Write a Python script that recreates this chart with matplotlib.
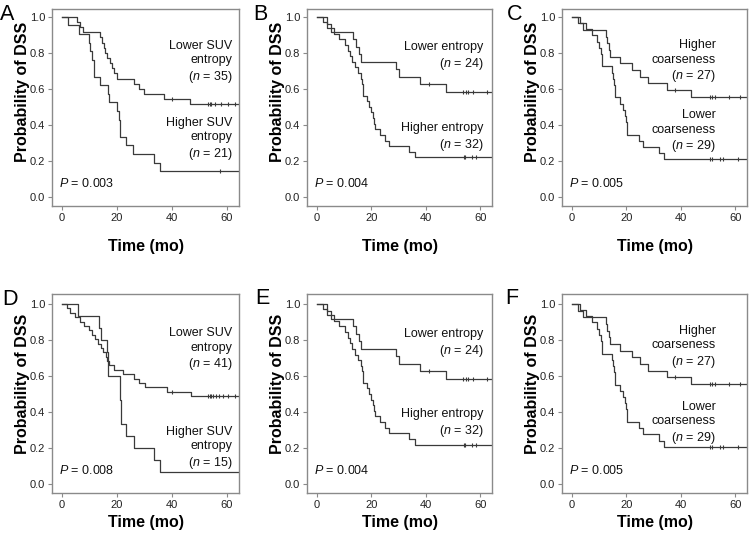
import numpy as np
import matplotlib
matplotlib.use("Agg")
import matplotlib.pyplot as plt

plt.rcParams['font.family'] = ['Liberation Sans', 'DejaVu Sans']
plt.rcParams['mathtext.fontset'] = 'custom'
plt.rcParams['mathtext.it'] = 'Liberation Sans:italic'
plt.rcParams['mathtext.rm'] = 'Liberation Sans'

# ---------------- data ----------------
# Panel A / D: SUV entropy ; Panel B / E: entropy ; Panel C / F: coarseness
A_hi_t = [2.2, 6.3, 9.9, 10.3, 10.8, 11.7, 13.6, 16.6, 16.9, 19.8, 20.6, 21.0, 21.2, 23.4, 25.9, 33.5, 35.7]
A_hi_s = [0.952, 0.905, 0.857, 0.810, 0.762, 0.667, 0.619, 0.571, 0.524, 0.476, 0.429, 0.381, 0.333, 0.286, 0.238, 0.190, 0.143]
A_hi_c = [57.4]
A_lo_t = [5.3, 6.5, 7.5, 13.6, 14.5, 15.1, 15.7, 16.3, 17.5, 18.2, 18.8, 19.8, 26.1, 28.0, 29.8, 37.2, 46.6]
A_lo_s = [0.971, 0.943, 0.914, 0.886, 0.857, 0.829, 0.800, 0.771, 0.743, 0.714, 0.686, 0.657, 0.629, 0.600, 0.571, 0.543, 0.514]
A_lo_c = [40.0, 53.0, 53.7, 54.3, 55.6, 58.0, 60.5, 63.0, 65.0]

B_lo_t = [3.8, 5.0, 13.2, 14.5, 15.4, 16.0, 29.0, 30.3, 37.8, 47.5]
B_lo_s = [0.958, 0.917, 0.875, 0.833, 0.792, 0.750, 0.708, 0.667, 0.625, 0.583]
B_lo_c = [41.2, 53.6, 54.8, 55.5, 57.4, 62.4, 65.0]
B_hi_t = [2.3, 3.8, 6.1, 8.2, 10.1, 11.3, 12.0, 13.0, 14.0, 15.0, 16.0, 16.5, 17.0, 18.5, 19.0, 20.0, 20.5, 21.0, 21.5, 23.0, 25.0, 26.5, 34.0, 36.0]
B_hi_s = [0.969, 0.938, 0.906, 0.875, 0.844, 0.812, 0.781, 0.750, 0.719, 0.688, 0.656, 0.625, 0.562, 0.531, 0.500, 0.469, 0.438, 0.406, 0.375, 0.344, 0.312, 0.281, 0.250, 0.219]
B_hi_c = [54.0, 54.5, 57.0, 58.5, 65.0]

C_hi_t = [2.3, 4.1, 12.5, 13.0, 13.5, 14.0, 17.5, 22.0, 25.0, 28.0, 35.0, 43.7]
C_hi_s = [0.963, 0.926, 0.889, 0.852, 0.815, 0.778, 0.741, 0.704, 0.667, 0.630, 0.593, 0.556]
C_hi_c = [37.9, 50.8, 51.4, 52.5, 57.7, 61.8]
C_lo_t = [2.9, 5.2, 7.3, 9.3, 10.0, 10.5, 11.0, 14.6, 15.2, 15.5, 15.7, 17.5, 18.6, 19.6, 20.0, 20.4, 24.5, 26.0, 32.0, 33.8]
C_lo_s = [0.966, 0.931, 0.897, 0.862, 0.828, 0.793, 0.724, 0.690, 0.655, 0.621, 0.552, 0.517, 0.483, 0.448, 0.414, 0.345, 0.310, 0.276, 0.241, 0.207]
C_lo_c = [50.8, 51.4, 54.3, 55.4, 61.2]

D_hi_t = [5.9, 13.3, 14.0, 16.3, 16.6, 21.0, 21.3, 23.4, 26.0, 33.5, 35.7]
D_hi_s = [0.933, 0.867, 0.800, 0.733, 0.600, 0.467, 0.333, 0.267, 0.200, 0.133, 0.067]
D_hi_c = []
D_lo_t = [1.6, 2.8, 4.7, 6.5, 8.0, 9.6, 11.0, 12.0, 13.0, 14.0, 15.0, 16.0, 16.5, 17.0, 19.0, 22.0, 26.0, 28.0, 30.0, 38.0, 47.0]
D_lo_s = [0.976, 0.951, 0.927, 0.902, 0.878, 0.854, 0.829, 0.805, 0.780, 0.756, 0.732, 0.707, 0.683, 0.659, 0.634, 0.610, 0.585, 0.561, 0.537, 0.512, 0.488]
D_lo_c = [40.0, 53.0, 53.7, 54.3, 55.0, 56.0, 57.0, 58.5, 60.5, 63.0, 65.0]

panel_letters = ['A', 'B', 'C', 'D', 'E', 'F']
p_values = ['0.003', '0.004', '0.005', '0.008', '0.004', '0.005']
upper_labels = ['Lower SUV\nentropy\n($n$ = 35)', 'Lower entropy\n($n$ = 24)', 'Higher\ncoarseness\n($n$ = 27)',
                'Lower SUV\nentropy\n($n$ = 41)', 'Lower entropy\n($n$ = 24)', 'Higher\ncoarseness\n($n$ = 27)']
lower_labels = ['Higher SUV\nentropy\n($n$ = 21)', 'Higher entropy\n($n$ = 32)', 'Lower\ncoarseness\n($n$ = 29)',
                'Higher SUV\nentropy\n($n$ = 15)', 'Higher entropy\n($n$ = 32)', 'Lower\ncoarseness\n($n$ = 29)']
curves = [
    [(A_lo_t, A_lo_s, A_lo_c), (A_hi_t, A_hi_s, A_hi_c)],
    [(B_lo_t, B_lo_s, B_lo_c), (B_hi_t, B_hi_s, B_hi_c)],
    [(C_hi_t, C_hi_s, C_hi_c), (C_lo_t, C_lo_s, C_lo_c)],
    [(D_lo_t, D_lo_s, D_lo_c), (D_hi_t, D_hi_s, D_hi_c)],
    [(B_lo_t, B_lo_s, B_lo_c), (B_hi_t, B_hi_s, B_hi_c)],
    [(C_hi_t, C_hi_s, C_hi_c), (C_lo_t, C_lo_s, C_lo_c)],
]
x_ticks = [0, 20, 40, 60]
y_ticks = [0.0, 0.2, 0.4, 0.6, 0.8, 1.0]
t_end = 65.0

# ---------------- layout ----------------
W, H = 749, 541
fig = plt.figure(figsize=(W / 100, H / 100), dpi=100)

col_left = [52.3, 307.3, 562.3]
col_width = [187, 185, 185]
row_top = [8.7, 294]
row_bottom = [205.7, 493]

upper_pos = [(62, 0.745), (61.3, 0.78), (53, 0.75), (62, 0.745), (61.3, 0.78), (53, 0.757)]
lower_pos = [(62, 0.32), (61.3, 0.33), (53, 0.36), (62, 0.197), (61.3, 0.335), (53, 0.337)]
letter_xy = [(0, 20), (253, 20), (507, 20), (2, 305), (255, 304), (505, 304)]

line_col = '#3a3a3a'
frame_col = '#8a8a8a'

for i in range(6):
    r, c = divmod(i, 3)
    l = col_left[c] / W
    b = 1 - row_bottom[r] / H
    w = col_width[c] / W
    h = (row_bottom[r] - row_top[r]) / H
    ax = fig.add_axes([l, b, w, h])
    for (t, s, cens) in curves[i]:
        xs = np.r_[0.0, t, t_end]
        ys = np.r_[1.0, s, s[-1]]
        ax.step(xs, ys, where='post', color=line_col, lw=0.9)
        if len(cens):
            cy = [ys[np.searchsorted(xs, cx, side='right') - 1] for cx in cens]
            ax.plot(cens, cy, linestyle='none', marker='|', ms=3.5, mew=0.8, color=line_col)
    ax.set_xlim(-3.6, 64.5)
    ax.set_ylim(-0.05, 1.045 if r == 0 else 1.055)
    ax.set_xticks(x_ticks)
    ax.set_yticks(y_ticks)
    ax.set_yticklabels(['%.1f' % v for v in y_ticks])
    ax.tick_params(axis='both', labelsize=8, length=3, width=0.8, color=frame_col, labelcolor='#222222', pad=2)
    for sp in ax.spines.values():
        sp.set_color(frame_col)
        sp.set_linewidth(1.0)
    ax.set_xlabel('Time (mo)', fontsize=11.5, fontweight='bold', va='center')
    ax.set_ylabel('Probability of DSS', fontsize=11.5, fontweight='bold', va='center')
    ax.xaxis.set_label_coords(0.5, -0.205 if r == 0 else -0.146)
    ax.yaxis.set_label_coords(-0.16, 0.58 if r == 0 else 0.548)
    ax.text(upper_pos[i][0], upper_pos[i][1], upper_labels[i], ha='right', va='center', fontsize=9,
            linespacing=1.25, color='#111111')
    ax.text(lower_pos[i][0], lower_pos[i][1], lower_labels[i], ha='right', va='center', fontsize=9,
            linespacing=1.25, color='#111111')
    ax.text(-1.2, 0.075, '$P$ = ' + p_values[i], ha='left', va='center', fontsize=9, color='#111111')
    fig.text(letter_xy[i][0] / W, 1 - letter_xy[i][1] / H, panel_letters[i], fontsize=15.5,
             ha='left', va='baseline')

fig.savefig('out.png', dpi=100)
